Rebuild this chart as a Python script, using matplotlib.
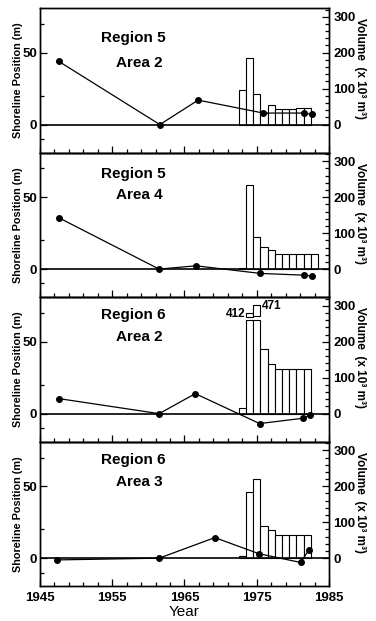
import matplotlib.pyplot as plt
from matplotlib.ticker import FixedLocator

plt.rcParams['font.family'] = ['Liberation Sans', 'DejaVu Sans']
plt.rcParams['font.weight'] = 'bold'

regions = ["Region 5", "Region 5", "Region 6", "Region 6"]
areas = ["Area 2", "Area 4", "Area 2", "Area 3"]

# shoreline surveys (year, m)
years_r5a2 = [1947.6, 1961.6, 1966.9, 1975.9, 1981.6, 1982.7]
shore_r5a2 = [44, 0, 17, 8, 8, 7]
years_r5a4 = [1947.7, 1961.5, 1966.6, 1975.5, 1981.5, 1982.6]
shore_r5a4 = [35.5, 0, 2.3, -3, -4.2, -4.9]
years_r6a2 = [1947.7, 1961.5, 1966.5, 1975.4, 1981.4, 1982.4]
shore_r6a2 = [10.4, 0, 13.9, -6.9, -3.2, -0.9]
years_r6a3 = [1947.4, 1961.5, 1969.2, 1975.3, 1981.1, 1982.2]
shore_r6a3 = [-1.2, 0, 14.3, 3.1, -3, 5.8]

# yearly volumes (x10^3 m^3), starting 1973
vol_years = list(range(1973, 1984))
vol_r5a2 = [96, 184, 84, 32, 55, 43, 43, 43, 45, 45]
vol_r5a4 = [4, 235, 90, 61, 52, 42, 42, 42, 42, 42, 42]
vol_r6a2 = [16, 261, 261, 181, 138, 124, 124, 124, 124, 124]
vol_r6a3 = [7, 183, 221, 89, 79, 64, 64, 64, 64, 64]

# broken bars in Region 6 Area 2
over_years = [1974, 1975]
over_labels = ["412", "471"]
over_bottom = [270, 272]
over_height = [11, 29]

shore_years = [years_r5a2, years_r5a4, years_r6a2, years_r6a3]
shore_vals = [shore_r5a2, shore_r5a4, shore_r6a2, shore_r6a3]
volumes = [vol_r5a2, vol_r5a4, vol_r6a2, vol_r6a3]

text_y = [(0.79, 0.62), (0.85, 0.71), (0.875, 0.725), (0.87, 0.72)]

fig, axes = plt.subplots(4, 1, figsize=(3.76, 6.21), dpi=100, sharex=True)
fig.subplots_adjust(left=0.106, right=0.875, top=0.987, bottom=0.056, hspace=0)

for i, ax in enumerate(axes):
    ax2 = ax.twinx()
    vols = volumes[i]
    ax2.bar(vol_years[:len(vols)], vols, width=1.0, color='white',
            edgecolor='black', linewidth=0.8)
    if i == 2:
        ax2.bar(over_years, over_height, bottom=over_bottom, width=1.0,
                color='white', edgecolor='black', linewidth=0.8)
        ax2.text(over_years[0] - 0.6, over_bottom[0] + 6, over_labels[0],
                 ha='right', va='center', fontsize=8.5)
        ax2.text(over_years[1] + 0.7, over_bottom[1] + over_height[1] - 3,
                 over_labels[1], ha='left', va='center', fontsize=8.5)

    ax.axhline(0, color='black', lw=1.2)
    ax.plot(shore_years[i], shore_vals[i], color='black', lw=0.9,
            marker='o', ms=4)
    ax.set_zorder(ax2.get_zorder() + 1)
    ax.patch.set_visible(False)

    ax.set_xlim(1945, 1985)
    ax.set_ylim(-19.5, 81)
    ax2.set_ylim(-78, 324)

    ax.xaxis.set_major_locator(FixedLocator(range(1945, 1986, 10)))
    ax.xaxis.set_minor_locator(FixedLocator([y for y in range(1947, 1985, 2) if y % 10 != 5]))
    ax.yaxis.set_major_locator(FixedLocator([0, 50]))
    ax.yaxis.set_minor_locator(FixedLocator([-10, 20, 70]))
    ax2.yaxis.set_major_locator(FixedLocator([0, 100, 200, 300]))
    ax2.yaxis.set_minor_locator(FixedLocator([v for v in range(20, 321, 20) if v % 100 != 0]))

    ax.tick_params(axis='both', which='major', direction='in', length=5,
                   width=0.9, labelsize=9.5, pad=2)
    ax.tick_params(axis='both', which='minor', direction='in', length=3, width=0.9)
    ax.tick_params(axis='x', which='major', pad=4)
    ax2.tick_params(axis='y', which='major', direction='in', length=5,
                    width=0.9, labelsize=9.5, pad=3)
    ax2.tick_params(axis='y', which='minor', direction='in', length=3, width=0.9)

    for sp in list(ax.spines.values()) + list(ax2.spines.values()):
        sp.set_linewidth(1.0)

    ax.text(0.21, text_y[i][0], regions[i], transform=ax.transAxes,
            ha='left', va='center', fontsize=11)
    ax.text(0.265, text_y[i][1], areas[i], transform=ax.transAxes,
            ha='left', va='center', fontsize=11)

    ax.text(-0.075, 0.5, "Shoreline Position (m)", transform=ax.transAxes,
            rotation=90, ha='center', va='center', fontsize=7.8)
    ax.text(1.107, 0.58, "Volume  (x 10³ m³)", transform=ax.transAxes,
            rotation=-90, ha='center', va='center', fontsize=8.5)

axes[-1].set_xlabel("Year", fontsize=11, labelpad=1)

fig.savefig("out.png", dpi=100)
